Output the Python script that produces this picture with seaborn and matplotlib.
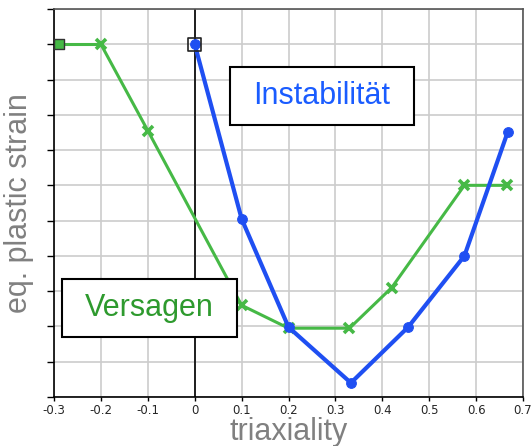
import pandas as pd
import matplotlib
matplotlib.use("Agg")
import matplotlib.pyplot as plt
import seaborn as sns
from matplotlib.patches import Rectangle

# Versagen (failure) curve
fail_x = [-0.29, -0.2, -0.1, 0.1, 0.2, 0.33, 0.42, 0.575, 0.665]
fail_y = [1.0, 1.0, 0.755, 0.26, 0.195, 0.195, 0.31, 0.60, 0.60]

# Instabilitaet (instability) curve
inst_x = [0.0, 0.1, 0.2, 0.333, 0.455, 0.575, 0.667]
inst_y = [1.0, 0.505, 0.198, 0.04, 0.198, 0.40, 0.75]

x_ticks = [-0.3, -0.2, -0.1, 0, 0.1, 0.2, 0.3, 0.4, 0.5, 0.6, 0.7]
x_tick_labels = ["-0.3", "-0.2", "-0.1", "0", "0.1", "0.2", "0.3", "0.4", "0.5", "0.6", "0.7"]
y_ticks = [i / 10 for i in range(12)]

green = "#46b946"
blue = "#1f4ff2"

sns.set_style("white")
plt.rcParams["font.family"] = ["Liberation Sans", "DejaVu Sans"]

fig = plt.figure(figsize=(5.31, 4.46), dpi=100)
ax = fig.add_axes([0.1017, 0.1099, 0.8833, 0.87])

df_fail = pd.DataFrame({"x": fail_x[1:], "y": fail_y[1:]})
df_inst = pd.DataFrame({"x": inst_x, "y": inst_y})

# line from the start point (square marker, no cross)
sns.lineplot(x=fail_x[:2], y=fail_y[:2], ax=ax, color=green, lw=2.2, sort=False, zorder=3)
sns.lineplot(data=df_fail, x="x", y="y", ax=ax, color=green, lw=2.2,
             marker="x", markersize=7, markeredgewidth=2.6, markeredgecolor=green,
             sort=False, zorder=3)
sns.lineplot(data=df_inst, x="x", y="y", ax=ax, color=blue, lw=3,
             marker="o", markersize=7, markeredgecolor=blue, sort=False, zorder=4)

# square start markers
sns.scatterplot(x=fail_x[:1], y=fail_y[:1], ax=ax, marker="s", s=55,
                color=green, edgecolor="#333333", linewidth=1, zorder=5)
sns.scatterplot(x=inst_x[:1], y=inst_y[:1], ax=ax, marker="s", s=90,
                facecolor="none", edgecolor="#222222", linewidth=1.2, zorder=5)

ax.axvline(0, color="black", lw=1.2, zorder=2)

ax.set_xlim(-0.3, 0.7)
ax.set_ylim(0, 1.1)
ax.set_xticks(x_ticks)
ax.set_xticklabels(x_tick_labels)
for lbl in ax.get_xticklabels():
    lbl.set_fontfamily("DejaVu Sans")
    lbl.set_fontsize(8.5)
ax.set_yticks(y_ticks)
ax.set_yticklabels([])
ax.grid(True, color="#cccccc", lw=1.2, zorder=0)
ax.set_axisbelow(True)
ax.tick_params(axis="y", left=True, length=5, width=1, color="black")
ax.tick_params(axis="x", bottom=True, length=3, width=1, color="black", pad=2)

for side in ["left", "bottom"]:
    ax.spines[side].set_color("black")
    ax.spines[side].set_linewidth(1.2)
for side in ["top", "right"]:
    ax.spines[side].set_color("#555555")
    ax.spines[side].set_linewidth(1.2)

ax.set_xlabel("triaxiality", fontsize=22, color="#808080", labelpad=0)
ax.set_ylabel("eq. plastic strain", fontsize=22, color="#808080", labelpad=6)

# text boxes
ax.add_patch(Rectangle((0.375, 0.701), 0.393, 0.150, transform=ax.transAxes,
                       facecolor="white", edgecolor="black", lw=1.5, zorder=10))
ax.text(0.571, 0.776, "Instabilität", transform=ax.transAxes, fontsize=22,
        color="#1a5cff", ha="center", va="center", zorder=11)

ax.add_patch(Rectangle((0.017, 0.155), 0.373, 0.149, transform=ax.transAxes,
                       facecolor="white", edgecolor="black", lw=1.5, zorder=10))
ax.text(0.204, 0.229, "Versagen", transform=ax.transAxes, fontsize=22,
        color="#2e9a2e", ha="center", va="center", zorder=11)

if ax.get_legend() is not None:
    ax.get_legend().remove()

fig.savefig("out.png", dpi=100)
